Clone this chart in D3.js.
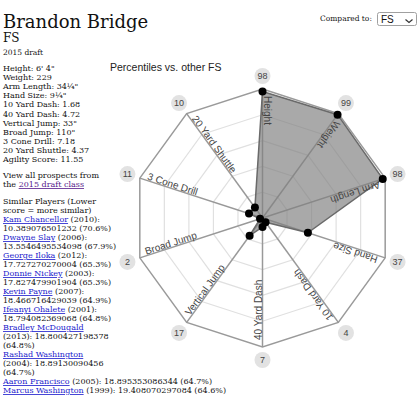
<!DOCTYPE html>
<html><head><meta charset="utf-8">
<script src="https://cdn.jsdelivr.net/npm/d3@7"></script>
<style>body{margin:0;background:#fff;overflow:hidden}</style>
</head><body><svg id="c" width="418" height="400"></svg>
<script>
// ---- data ----
const playerName = "Brandon Bridge";
const position = "FS";
const draftYear = 2015;
const axes = ["Height","Weight","Arm Length","Hand Size","10 Yard Dash","40 Yard Dash","Vertical Jump","Broad Jump","3 Cone Drill","20 Yard Shuttle"];
const percentiles = [98, 99, 98, 37, 4, 7, 17, 2, 11, 10];
const statLabels = ["Height","Weight","Arm Length","Hand Size","10 Yard Dash","40 Yard Dash","Vertical Jump","Broad Jump","3 Cone Drill","20 Yard Shuttle","Agility Score"];
const statValues = ["6' 4\"","229","34¼\"","9¼\"","1.68","4.72","33\"","110\"","7.18","4.37","11.55"];
const similarNames = ["Kam Chancellor","Dwayne Slay","George Iloka","Donnie Nickey","Kevin Payne","Ifeanyi Ohalete","Bradley McDougald","Rashad Washington","Aaron Francisco","Marcus Washington"];
const similarYears = [2010, 2006, 2012, 2003, 2007, 2001, 2013, 2004, 2005, 1999];
const similarScores = ["10.389076501232","13.5546495534098","17.727270270004","17.827479901904","18.466716429039","18.794082369068","18.800427198378","18.89130090456","18.895353086344","19.408070297084"];
const similarPcts = ["70.6","67.9","65.3","65.3","64.9","64.8","64.8","64.7","64.7","64.6"];
const gridLevels = [20, 40, 60, 80, 100];

// ---- drawing ----
const svg = d3.select("#c");
const serif = "DejaVu Serif";
const sans = "Liberation Sans, Arial, sans-serif";

// header
svg.append("text").attr("x", 3).attr("y", 28).attr("font-family", serif).attr("font-size", 18).attr("fill", "#111").text(playerName);
svg.append("text").attr("x", 3).attr("y", 42).attr("font-family", serif).attr("font-size", 12).attr("fill", "#111").text(position);
svg.append("text").attr("x", 3).attr("y", 55).attr("font-family", serif).attr("font-size", 7.5).attr("fill", "#111").text(draftYear + " draft");

// stats
const fs = 8;
statLabels.forEach((l, i) => {
  svg.append("text").attr("x", 3).attr("y", 71 + i * 9.1).attr("font-family", serif).attr("font-size", fs).attr("fill", "#111")
    .text(l + ": " + statValues[i]);
});

// view all
svg.append("text").attr("x", 3).attr("y", 178).attr("font-family", serif).attr("font-size", fs).attr("fill", "#111").text("View all prospects from");
const t2 = svg.append("text").attr("x", 3).attr("y", 187).attr("font-family", serif).attr("font-size", fs).attr("fill", "#111");
t2.append("tspan").text("the ");
t2.append("tspan").attr("fill", "#551a8b").attr("text-decoration", "underline").text(draftYear + " draft class");

svg.append("text").attr("x", 3).attr("y", 204).attr("font-family", serif).attr("font-size", fs).attr("fill", "#111").text("Similar Players (Lower");
svg.append("text").attr("x", 3).attr("y", 213).attr("font-family", serif).attr("font-size", fs).attr("fill", "#111").text("score = more similar)");

// similar players with wrap pattern (token index where new lines begin)
const wrapStarts = [[2],[2],[2],[2],[2],[2],[1,3],[1,3],[],[]];
let ly = 222;
similarNames.forEach((n, i) => {
  const toks = [
    {t: n, link: true},
    {t: " (" + similarYears[i] + "):"},
    {t: " " + similarScores[i]},
    {t: " (" + similarPcts[i] + "%)"}
  ];
  let lines = [[]];
  toks.forEach((tk, k) => {
    if (wrapStarts[i].includes(k)) lines.push([]);
    lines[lines.length - 1].push(tk);
  });
  lines.forEach(line => {
    const tx = svg.append("text").attr("x", 3).attr("y", ly).attr("font-family", serif).attr("font-size", fs).attr("fill", "#111");
    line.forEach((tk, j) => {
      let s = tk.t;
      if (j === 0) s = s.replace(/^ /, "");
      const sp = tx.append("tspan").text(s);
      if (tk.link) sp.attr("fill", "#1a1acc").attr("text-decoration", "underline");
    });
    ly += 9;
  });
});

// top right select
svg.append("text").attr("x", 320).attr("y", 21).attr("font-family", serif).attr("font-size", 7.5).attr("fill", "#111").text("Compared to:");
svg.append("rect").attr("x", 377.5).attr("y", 12.5).attr("width", 39).attr("height", 13).attr("rx", 2).attr("fill", "#fff").attr("stroke", "#a0a0a0");
svg.append("text").attr("x", 381).attr("y", 22.5).attr("font-family", sans).attr("font-size", 10).attr("fill", "#111").text(position);
svg.append("path").attr("d", "M405.5,19.5 L409,22.5 L412.5,19.5").attr("fill", "none").attr("stroke", "#333").attr("stroke-width", 1.2);

// chart title
svg.append("text").attr("x", 110).attr("y", 71).attr("font-family", sans).attr("font-size", 10.5).attr("fill", "#222").text("Percentiles vs. other " + position);

// radar
const cx = 262.5, cy = 218, R = 129;
const n = axes.length;
const r = d3.scaleLinear().domain([0, 100]).range([0, R]);
const ang = d3.scaleLinear().domain([0, n]).range([0, 2 * Math.PI]);
const pt = (i, rad) => [cx + rad * Math.sin(ang(i)), cy - rad * Math.cos(ang(i))];
const closed = d3.line().curve(d3.curveLinearClosed);

const g = svg.append("g");
gridLevels.forEach(lv => {
  g.append("path").attr("d", closed(axes.map((a, i) => pt(i, r(lv)))))
    .attr("fill", "none")
    .attr("stroke", lv === 100 ? "#9a9a9a" : "#e0e0e0")
    .attr("stroke-width", lv === 100 ? 1.5 : 1.2);
});
axes.forEach((a, i) => {
  const p = pt(i, R);
  g.append("line").attr("x1", cx).attr("y1", cy).attr("x2", p[0]).attr("y2", p[1])
    .attr("stroke", "#999").attr("stroke-width", 1.5);
});

// data polygon
g.append("path").attr("d", closed(percentiles.map((v, i) => pt(i, r(v)))))
  .attr("fill", "#808080").attr("fill-opacity", 0.68)
  .attr("stroke", "#6a6a6a").attr("stroke-width", 1.5);

// axis labels along axes
axes.forEach((a, i) => {
  const p = pt(i, R - 7);
  const th = ang(i);
  const deg = Math.atan2(Math.cos(th), -Math.sin(th)) * 180 / Math.PI;
  g.append("text").attr("transform", `translate(${p[0]},${p[1]}) rotate(${deg})`)
    .attr("dy", -1).attr("font-family", sans).attr("font-size", 10).attr("fill", "#444").text(a);
});

// dots
percentiles.forEach((v, i) => {
  const p = pt(i, r(v));
  g.append("circle").attr("cx", p[0]).attr("cy", p[1]).attr("r", 4).attr("fill", "#000");
});

// value badges
percentiles.forEach((v, i) => {
  const p = pt(i, R + 13);
  g.append("circle").attr("cx", p[0]).attr("cy", p[1]).attr("r", 8).attr("fill", "#e2e2e2");
  g.append("text").attr("x", p[0]).attr("y", p[1]).attr("dy", "0.35em").attr("text-anchor", "middle")
    .attr("font-family", sans).attr("font-size", 9).attr("fill", "#444").text(v);
});
</script></body></html>
